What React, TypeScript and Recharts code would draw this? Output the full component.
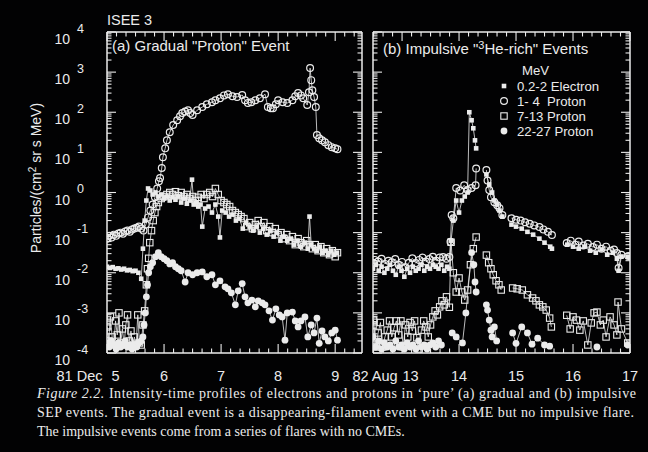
import React from "react";
import { ComposedChart, Line, XAxis, YAxis, Legend } from "recharts";

const FG = "#ebebeb";
const BG = "#020203";
const SANS = '"Liberation Sans", Arial, Helvetica, sans-serif';
const SERIF = '"Liberation Serif", "Times New Roman", serif';

type Pt = [number, number | null];

// (a) 1981 Dec 5-9, gradual event: [day of month, log10 intensity]
const gradElectron: Pt[] = [
  [5.0, -1.85], [5.05, -1.88], [5.1, -1.86], [5.15, -1.9], [5.2, -1.89], [5.25, -1.92], [5.3, -1.9],
  [5.35, -1.94], [5.4, -1.93], [5.45, -1.96], [5.5, -1.95], [5.55, -2.0], [5.6, -2.15], [5.63, -1.4],
  [5.66, -0.7], [5.69, -0.2], [5.72, 0.1], [5.76, 0.05], [5.8, -0.05], [5.85, 0.0], [5.9, -0.1],
  [5.95, -0.05], [6.0, -0.15], [6.05, -0.1], [6.1, -0.2], [6.15, -0.12], [6.2, -0.18], [6.25, -0.1],
  [6.3, -0.25], [6.35, -0.15], [6.4, -0.28], [6.45, -0.2], [6.49, 0.32], [6.52, -0.3], [6.56, -0.25],
  [6.6, -0.35], [6.64, -0.3], [6.67, -0.85], [6.72, -0.4], [6.78, -0.35], [6.84, -0.5], [6.9, -0.3],
  [6.95, -0.6], [6.98, -1.12], [7.02, -0.45], [7.08, -0.5], [7.14, -0.6], [7.2, -0.55], [7.26, -0.7],
  [7.32, -0.65], [7.38, -0.9], [7.44, -0.75], [7.5, -0.85], [7.56, -0.95], [7.62, -0.85], [7.68, -1.0],
  [7.74, -0.9], [7.8, -1.05], [7.86, -0.95], [7.92, -1.1], [7.98, -1.0], [8.04, -1.2], [8.1, -1.1],
  [8.16, -1.2], [8.22, -1.15], [8.28, -1.3], [8.34, -1.2], [8.4, -1.35], [8.46, -1.25], [8.52, -1.4],
  [8.55, -0.6], [8.58, -1.3], [8.63, -1.4], [8.68, -1.45], [8.73, -1.35], [8.78, -1.5], [8.83, -1.45],
  [8.88, -1.55], [8.93, -1.45], [8.98, -1.55], [9.03, -1.5],
];

const gradP14: Pt[] = [
  [5.0, -1.15], [5.04, -1.08], [5.08, -1.12], [5.12, -1.05], [5.16, -1.08], [5.2, -1.02], [5.24, -1.0],
  [5.28, -1.03], [5.32, -0.97], [5.36, -0.95], [5.4, -0.98], [5.44, -0.92], [5.48, -0.9], [5.52, -0.88],
  [5.56, -0.85], [5.6, -0.9], [5.64, -0.95], [5.68, -0.8], [5.72, -0.62], [5.76, -0.45], [5.8, -0.3],
  [5.84, -0.12], [5.88, 0.1], [5.91, 0.28], [5.93, 0.36], [5.96, 0.61], [5.98, 0.88], [6.02, 1.1],
  [6.05, 1.3], [6.1, 1.5], [6.16, 1.68], [6.23, 1.8], [6.28, 1.9], [6.32, 1.98], [6.37, 2.02],
  [6.42, 2.05], [6.46, 1.98], [6.5, 1.93], [6.58, 2.05], [6.67, 2.13], [6.75, 2.2], [6.84, 2.25],
  [6.9, 2.3], [6.98, 2.35], [7.05, 2.42], [7.12, 2.45], [7.2, 2.4], [7.28, 2.38], [7.37, 2.43],
  [7.42, 2.3], [7.47, 2.23], [7.53, 2.25], [7.6, 2.3], [7.68, 2.35], [7.77, 2.45], [7.82, 2.13],
  [7.87, 2.1], [7.91, 2.1], [7.96, 2.2], [8.0, 2.3], [8.08, 2.25], [8.16, 2.23], [8.25, 2.3],
  [8.3, 2.4], [8.35, 2.48], [8.4, 2.42], [8.44, 2.35], [8.51, 2.18], [8.54, 2.5], [8.56, 3.1],
  [8.58, 2.8], [8.6, 2.55], [8.63, 2.38], [8.66, 2.13], [8.68, 1.43], [8.72, 1.35], [8.77, 1.3],
  [8.82, 1.25], [8.88, 1.18], [8.94, 1.13], [9.0, 1.1], [9.04, 1.08],
];

const gradP713: Pt[] = [
  [5.0, -3.35], [5.03, -3.7], [5.06, -3.1], [5.09, -3.6], [5.12, -3.8], [5.15, -3.2], [5.18, -3.55],
  [5.21, -3.0], [5.24, -3.75], [5.27, -3.4], [5.3, -3.8], [5.33, -3.3], [5.36, -3.05], [5.39, -3.7],
  [5.42, -3.45], [5.45, -3.8], [5.48, -3.6], [5.51, -3.8], [5.54, -3.05], [5.57, -3.75], [5.6, -3.8],
  [5.63, -3.3], [5.66, -2.95], [5.69, -2.3], [5.71, -1.9], [5.73, -1.64], [5.75, -1.25], [5.78, -0.95],
  [5.81, -0.7], [5.84, -0.5], [5.87, -0.35], [5.9, -0.25], [5.95, -0.15], [6.0, -0.1], [6.05, -0.05],
  [6.1, 0.0], [6.15, -0.05], [6.2, 0.02], [6.25, -0.08], [6.3, 0.0], [6.35, -0.1], [6.4, -0.05],
  [6.45, -0.15], [6.5, -0.1], [6.55, -0.2], [6.6, -0.12], [6.65, -0.05], [6.7, -0.15], [6.75, -0.05],
  [6.8, 0.0], [6.85, -0.1], [6.9, 0.1], [6.95, -0.05], [7.0, -0.2], [7.05, -0.25], [7.1, -0.3],
  [7.15, -0.35], [7.2, -0.45], [7.25, -0.5], [7.3, -0.55], [7.35, -0.6], [7.4, -0.65], [7.45, -0.85],
  [7.5, -0.75], [7.55, -0.9], [7.6, -0.8], [7.65, -0.7], [7.7, -0.85], [7.75, -0.75], [7.8, -0.95],
  [7.85, -0.85], [7.9, -1.0], [7.95, -0.9], [8.0, -1.05], [8.05, -1.0], [8.1, -1.15], [8.15, -1.05],
  [8.2, -1.2], [8.25, -1.1], [8.3, -1.3], [8.35, -1.15], [8.4, -1.25], [8.45, -1.35], [8.5, -1.2],
  [8.55, -1.3], [8.6, -1.4], [8.65, -1.3], [8.7, -1.45], [8.75, -1.35], [8.8, -1.5], [8.85, -1.4],
  [8.9, -1.55], [8.95, -1.45], [9.0, -1.6], [9.04, -1.5],
];

const gradP2227: Pt[] = [
  [5.0, -3.75], [5.04, -3.85], [5.08, -3.7], [5.12, -3.8], [5.16, -3.9], [5.2, -3.75], [5.24, -3.85],
  [5.28, -3.8], [5.32, -3.7], [5.36, -3.85], [5.4, -3.8], [5.44, -3.9], [5.48, -3.8], [5.52, -3.85],
  [5.56, -3.75], [5.6, -3.7], [5.63, -3.6], [5.65, -3.3], [5.67, -3.0], [5.69, -2.6], [5.71, -2.3],
  [5.73, -2.0], [5.76, -1.85], [5.8, -1.75], [5.85, -1.6], [5.9, -1.5], [5.95, -1.6], [6.0, -1.65],
  [6.05, -1.7], [6.1, -1.78], [6.15, -1.75], [6.2, -1.85], [6.25, -1.9], [6.3, -1.95], [6.37, -2.23],
  [6.42, -2.0], [6.5, -2.05], [6.58, -2.0], [6.67, -1.98], [6.75, -2.1], [6.84, -2.05], [6.9, -2.3],
  [6.98, -2.2], [7.07, -2.35], [7.12, -2.4], [7.18, -2.5], [7.25, -2.8], [7.3, -2.45], [7.37, -2.27],
  [7.42, -2.6], [7.47, -2.75], [7.54, -2.68], [7.6, -2.85], [7.65, -2.7], [7.72, -2.75], [7.77, -2.8],
  [7.84, -2.95], [7.9, -3.18], [7.96, -2.9], [8.02, -3.05], [8.07, -3.1], [8.12, -3.68], [8.16, -3.0],
  [8.25, -2.98], [8.3, -3.2], [8.35, -3.35], [8.4, -3.2], [8.47, -3.1], [8.52, -3.6], [8.58, -3.3],
  [8.63, -3.5], [8.68, -3.13], [8.72, -3.76], [8.77, -3.45], [8.82, -3.6], [8.88, -3.7], [8.94, -3.5],
  [9.0, -3.43], [9.04, -3.68],
];

// (b) 1982 Aug 13-17, impulsive events (null = data gap)
const impElectron: Pt[] = [
  [12.49, -1.9], [12.54, -1.8], [12.59, -1.95], [12.64, -1.85], [12.69, -2.0], [12.74, -1.9],
  [12.79, -1.8], [12.84, -1.95], [12.89, -2.05], [12.94, -1.85], [12.99, -1.95], [13.04, -2.1],
  [13.09, -1.9], [13.14, -2.0], [13.19, -1.85], [13.24, -1.95], [13.29, -1.9], [13.34, -1.8],
  [13.39, -1.95], [13.44, -1.85], [13.49, -1.9], [13.54, -1.8], [13.59, -1.85], [13.64, -1.9],
  [13.69, -1.8], [13.74, -1.95], [13.79, -1.85], [13.83, -1.9], [13.86, -1.2], [13.9, -0.7],
  [13.95, -0.2], [14.0, -0.5], [14.05, -0.2], [14.1, -0.1], [14.15, 0.0], [14.18, 2.0], [14.22, 1.8],
  [14.25, 1.6], [14.28, 1.3], [14.3, 1.1], [14.4, null], [14.48, 0.45], [14.53, 0.2], [14.58, 0.0],
  [14.62, -0.2], [14.67, -0.3], [14.71, -0.45], [14.76, -0.6], [14.84, null], [14.92, -0.8],
  [15.0, -0.85], [15.1, -0.9], [15.2, -0.98], [15.3, -1.05], [15.41, -1.15], [15.5, -1.25],
  [15.6, -1.35], [15.63, -1.4], [15.75, null], [15.9, -1.3], [16.0, -1.35], [16.1, -1.4], [16.2, -1.35],
  [16.3, -1.45], [16.4, -1.5], [16.5, -1.42], [16.6, -1.55], [16.7, -1.5], [16.77, -1.65],
  [16.8, -1.95], [16.85, -1.6], [16.97, -1.6],
];

const impP14: Pt[] = [
  [12.49, -1.75], [12.52, -1.68], [12.58, -1.72], [12.64, -1.65], [12.7, -1.78], [12.76, -1.7],
  [12.82, -1.74], [12.88, -1.66], [12.94, -1.8], [13.0, -1.73], [13.06, -1.86], [13.12, -1.75],
  [13.18, -1.64], [13.24, -1.76], [13.3, -1.68], [13.36, -1.62], [13.42, -1.72], [13.48, -1.66],
  [13.54, -1.6], [13.6, -1.7], [13.66, -1.62], [13.72, -1.61], [13.78, -1.65], [13.83, -1.61],
  [13.85, -1.23], [13.87, -0.56], [13.9, -0.64], [13.95, 0.11], [14.02, 0.05], [14.09, 0.18],
  [14.15, 0.06], [14.22, 0.11], [14.29, 0.18], [14.3, 0.6], [14.4, null], [14.48, 0.56], [14.5, 0.3],
  [14.53, 0.06], [14.56, -0.12], [14.62, -0.24], [14.67, -0.32], [14.71, -0.39], [14.76, -0.56],
  [14.84, null], [14.92, -0.64], [15.0, -0.68], [15.08, -0.7], [15.16, -0.74], [15.24, -0.78],
  [15.32, -0.82], [15.41, -0.86], [15.48, -0.92], [15.56, -0.98], [15.63, -1.06], [15.75, null],
  [15.89, -1.26], [15.96, -1.2], [16.04, -1.3], [16.1, -1.22], [16.18, -1.32], [16.26, -1.28],
  [16.35, -1.36], [16.42, -1.3], [16.5, -1.4], [16.58, -1.35], [16.66, -1.45], [16.72, -1.42],
  [16.77, -1.51], [16.8, -1.88], [16.85, -1.55], [16.97, -1.58],
];

const impP713: Pt[] = [
  [12.49, -3.3], [12.5, -3.18], [12.54, -3.85], [12.58, -3.5], [12.62, -3.24], [12.66, -3.85],
  [12.7, -3.6], [12.74, -3.43], [12.78, -3.2], [12.82, -3.6], [12.86, -3.37], [12.9, -3.2],
  [12.94, -3.55], [12.98, -3.2], [13.02, -3.85], [13.06, -3.3], [13.1, -3.6], [13.14, -3.24],
  [13.18, -3.45], [13.22, -3.2], [13.26, -3.62], [13.3, -3.9], [13.34, -3.43], [13.38, -3.2],
  [13.42, -3.35], [13.46, -3.6], [13.5, -3.3], [13.54, -3.1], [13.58, -2.95], [13.62, -3.05],
  [13.66, -2.85], [13.7, -2.7], [13.74, -2.8], [13.78, -2.6], [13.83, -2.86], [13.86, -1.24],
  [13.9, -2.0], [13.95, -2.48], [14.0, -2.13], [14.05, -2.48], [14.1, -2.68], [14.15, -2.43],
  [14.2, -1.8], [14.25, -1.4], [14.3, -1.11], [14.4, null], [14.48, -1.56], [14.52, -1.75],
  [14.56, -1.9], [14.6, -2.05], [14.65, -2.2], [14.7, -2.3], [14.74, -2.43], [14.84, null],
  [14.94, -2.38], [15.02, -2.4], [15.11, -2.43], [15.2, -2.55], [15.29, -2.63], [15.35, -2.7],
  [15.41, -2.8], [15.47, -2.85], [15.53, -2.93], [15.59, -3.13], [15.62, -3.35], [15.75, null],
  [15.89, -3.06], [15.95, -3.4], [16.0, -3.1], [16.06, -3.18], [16.12, -3.43], [16.18, -3.2],
  [16.26, -3.8], [16.32, -3.25], [16.37, -3.0], [16.42, -2.98], [16.48, -3.3], [16.53, -3.18],
  [16.58, -3.6], [16.65, -3.1], [16.72, -3.3], [16.77, -3.55], [16.79, -2.73], [16.85, -3.4],
  [16.96, -3.75],
];

const impP2227: Pt[] = [
  [12.49, -3.6], [12.54, -3.85], [12.59, -3.7], [12.64, -3.9], [12.69, -3.75], [12.74, -3.85],
  [12.79, -3.8], [12.84, -3.9], [12.89, -3.7], [12.94, -3.85], [12.99, -3.8], [13.04, -3.9],
  [13.09, -3.75], [13.14, -3.85], [13.19, -3.8], [13.24, -3.9], [13.29, -3.7], [13.34, -3.85],
  [13.39, -3.8], [13.44, -3.9], [13.49, -3.8], [13.54, -3.75], [13.59, -3.85], [13.64, -3.7],
  [13.69, -3.8], [13.78, null], [13.88, -3.5], [13.95, -3.6], [14.06, -3.75], [14.12, -3.0],
  [14.22, -1.5], [14.26, -1.8], [14.28, -2.23], [14.3, -2.48], [14.4, null], [14.48, -2.8],
  [14.5, -2.93], [14.53, -3.18], [14.56, -3.43], [14.58, -3.6], [14.62, -3.35], [14.66, -3.7],
  [14.8, null], [14.94, -3.5], [15.0, -3.76], [15.1, -3.35], [15.2, -3.5], [15.28, -3.78],
  [15.38, -3.63], [15.5, -3.8], [15.59, -3.83], [16.0, null], [16.42, -3.85], [16.7, null],
  [16.96, -3.8],
];

const gradDays = [5, 6, 7, 8, 9];
const gradDayLabels = ["81 Dec 5", "6", "7", "8", "9"];
const impDays = [13, 14, 15, 16, 17];
const impDayLabels = ["82 Aug 13", "14", "15", "16", "17"];
const decades = [-4, -3, -2, -1, 0, 1, 2, 3, 4];
const legendTitle = "MeV";
const legendLabels = ["0.2-2 Electron", "1- 4  Proton", "7-13 Proton", "22-27 Proton"];
const captionLead = "Figure 2.2.";
const captionLines = [
  " Intensity-time profiles of electrons and protons in \u2018pure\u2019 (a) gradual and (b) impulsive",
  "SEP events. The gradual event is a disappearing-filament event with a CME but no impulsive flare.",
  "The impulsive events come from a series of flares with no CMEs.",
];

type Kind = "elec" | "p14" | "p713" | "p2227";
const kinds: Kind[] = ["elec", "p14", "p713", "p2227"];

const toRows = (pts: Pt[]) => pts.map(([d, v]) => ({ d, v }));

// axis tick positions: every 4 hours, and log minor ticks 2..9 per decade
const hourTicks = (lo: number, hi: number) => {
  const out: number[] = [];
  for (let i = Math.ceil(lo * 6); i <= Math.floor(hi * 6); i++) out.push(i / 6);
  return out;
};
const logTicks = decades.flatMap((n) =>
  n === 4 ? [4] : [1, 2, 3, 4, 5, 6, 7, 8, 9].map((k) => n + Math.log10(k))
);
const isWhole = (v: number) => Math.abs(v - Math.round(v)) < 1e-6;

function Marker({ kind, cx, cy }: { kind: Kind; cx: number; cy: number }) {
  if (kind === "elec") return <rect x={cx - 2.3} y={cy - 2.3} width={4.6} height={4.6} fill={FG} />;
  if (kind === "p14")
    return <circle cx={cx} cy={cy} r={3.4} fill="none" stroke={FG} strokeWidth={1.2} />;
  if (kind === "p713")
    return (
      <rect x={cx - 3.2} y={cy - 3.2} width={6.4} height={6.4} fill="none" stroke={FG} strokeWidth={1.1} />
    );
  return <circle cx={cx} cy={cy} r={3.4} fill={FG} />;
}

function LeftTick(props: any) {
  const { x, y, payload, showLabel } = props;
  const major = isWhole(payload.value);
  return (
    <g>
      <line x1={x} y1={y} x2={x + (major ? 9 : 4.5)} y2={y} stroke={FG} strokeWidth={1.1} />
      {showLabel && major ? (
        <g fill={FG} fontFamily={SANS}>
          <text x={x - 37} y={y + 12} textAnchor="end" fontSize={14}>
            10
          </text>
          <text x={x - 30} y={y + 0.5} fontSize={12.5}>
            {Math.round(payload.value)}
          </text>
        </g>
      ) : null}
    </g>
  );
}

function RightTick(props: any) {
  const { x, y, payload } = props;
  const major = isWhole(payload.value);
  return <line x1={x} y1={y} x2={x - (major ? 9 : 4.5)} y2={y} stroke={FG} strokeWidth={1.1} />;
}

function TopTick(props: any) {
  const { x, y, payload } = props;
  const major = isWhole(payload.value);
  return <line x1={x} y1={y} x2={x} y2={y + (major ? 9 : 4.5)} stroke={FG} strokeWidth={1.1} />;
}

function BottomTick(props: any) {
  const { x, y, payload, days, labels } = props;
  const v = payload.value;
  const major = isWhole(v);
  const idx = (days as number[]).findIndex((d) => Math.abs(d - v) < 1e-6);
  const label: string | null = idx >= 0 ? labels[idx] : null;
  const parts = label ? label.split(" ") : [];
  const num = parts.pop();
  const prefix = parts.join(" ");
  const txt = { fill: FG, fontFamily: SANS, fontSize: 14.5 };
  return (
    <g>
      <line x1={x} y1={y} x2={x} y2={y - (major ? 9 : 4.5)} stroke={FG} strokeWidth={1.1} />
      {label && prefix ? (
        <>
          <text x={x - 4.5} y={y + 28} textAnchor="end" {...txt}>
            {prefix}
          </text>
          <text x={x + 8.5} y={y + 28} textAnchor="middle" {...txt}>
            {num}
          </text>
        </>
      ) : label ? (
        <text x={x} y={y + 28} textAnchor="middle" {...txt}>
          {num}
        </text>
      ) : null}
    </g>
  );
}

function LegendBox() {
  return (
    <svg width={140} height={84} style={{ display: "block", overflow: "visible" }}>
      <g fill={FG} fontFamily={SANS} fontSize={13.2}>
        <text x={27} y={16}>
          {legendTitle}
        </text>
        {legendLabels.map((label, i) => (
          <g key={label}>
            <Marker kind={kinds[i]} cx={9} cy={27 + i * 15} />
            <text x={22} y={32 + i * 15} style={{ whiteSpace: "pre" }}>
              {label}
            </text>
          </g>
        ))}
      </g>
    </svg>
  );
}

type PanelProps = {
  left: number;
  width: number;
  axisWidth: number;
  rightGap: number;
  domain: [number, number];
  days: number[];
  dayLabels: string[];
  series: Pt[][];
  showYLabels: boolean;
  legend: boolean;
};

function Panel({ left, width, axisWidth, rightGap, domain, days, dayLabels, series, showYLabels, legend }: PanelProps) {
  const xTicks = hourTicks(domain[0], domain[1]);
  const frame = { stroke: FG, strokeWidth: 1.5 };
  return (
    <div style={{ position: "absolute", left, top: 0 }}>
      <ComposedChart width={width} height={400} margin={{ top: 31, right: rightGap, bottom: 0, left: 0 }}>
        <XAxis
          xAxisId="bottom"
          type="number"
          dataKey="d"
          domain={domain}
          allowDataOverflow
          ticks={xTicks}
          interval={0}
          height={47}
          tickSize={0}
          tickMargin={0}
          tickLine={false}
          axisLine={frame}
          tick={(p: any) => <BottomTick {...p} days={days} labels={dayLabels} />}
        />
        <XAxis
          xAxisId="top"
          orientation="top"
          type="number"
          dataKey="d"
          domain={domain}
          allowDataOverflow
          ticks={xTicks}
          interval={0}
          height={1}
          tickSize={0}
          tickMargin={0}
          tickLine={false}
          axisLine={frame}
          tick={(p: any) => <TopTick {...p} />}
        />
        <YAxis
          yAxisId="left"
          type="number"
          domain={[-4, 4]}
          allowDataOverflow
          ticks={logTicks}
          interval={0}
          width={axisWidth}
          tickSize={0}
          tickMargin={0}
          tickLine={false}
          axisLine={frame}
          tick={(p: any) => <LeftTick {...p} showLabel={showYLabels} />}
        />
        <YAxis
          yAxisId="right"
          orientation="right"
          type="number"
          domain={[-4, 4]}
          allowDataOverflow
          ticks={logTicks}
          interval={0}
          width={1}
          tickSize={0}
          tickMargin={0}
          tickLine={false}
          axisLine={frame}
          tick={(p: any) => <RightTick {...p} />}
        />
        {series.map((pts, i) => (
          <Line
            key={kinds[i]}
            name={legendLabels[i]}
            xAxisId="bottom"
            yAxisId="left"
            data={toRows(pts)}
            dataKey="v"
            type="linear"
            stroke={FG}
            strokeWidth={0.8}
            activeDot={false}
            isAnimationActive={false}
            dot={(p: any) =>
              p.cx == null || p.cy == null || p.value == null ? (
                <g key={`${kinds[i]}-${p.index}`} />
              ) : (
                <g key={`${kinds[i]}-${p.index}`}>
                  <Marker kind={kinds[i]} cx={p.cx} cy={p.cy} />
                </g>
              )
            }
          />
        ))}
        {legend ? (
          <Legend
            layout="horizontal"
            verticalAlign="middle"
            align="center"
            wrapperStyle={{ left: 155, top: 59, width: 140, height: 84 }}
            content={() => <LegendBox />}
          />
        ) : null}
      </ComposedChart>
    </div>
  );
}

export default function App() {
  return (
    <div
      style={{
        position: "fixed",
        left: 0,
        top: 0,
        width: 648,
        height: 452,
        background: BG,
        overflow: "hidden",
      }}
    >
      <Panel
        left={0}
        width={370}
        axisWidth={107}
        rightGap={7}
        domain={[5, 9.47]}
        days={gradDays}
        dayLabels={gradDayLabels}
        series={[gradElectron, gradP14, gradP713, gradP2227]}
        showYLabels
        legend={false}
      />
      <Panel
        left={340}
        width={308}
        axisWidth={33}
        rightGap={17}
        domain={[12.49, 17]}
        days={impDays}
        dayLabels={impDayLabels}
        series={[impElectron, impP14, impP713, impP2227]}
        showYLabels={false}
        legend
      />
      <svg
        width={648}
        height={452}
        style={{ position: "absolute", left: 0, top: 0, pointerEvents: "none" }}
      >
        <g fill={FG} fontFamily={SANS}>
          <text x={107} y={25} fontSize={14.5}>
            ISEE 3
          </text>
          <text x={112} y={51} fontSize={15}>
            (a) Gradual "Proton" Event
          </text>
          <text x={383} y={54} fontSize={15}>
            (b) Impulsive "
            <tspan fontSize={11} dy={-5}>
              3
            </tspan>
            <tspan dy={5}>He-rich" Events</tspan>
          </text>
          <text transform="translate(41,178) rotate(-90)" textAnchor="middle" fontSize={14}>
            Particles/(cm
            <tspan fontSize={10} dy={-5}>
              2
            </tspan>
            <tspan dy={5}> sr s MeV)</tspan>
          </text>
        </g>
        <g fill={FG} fontFamily={SERIF} fontSize={14}>
          <text x={37} y={398} textLength={599} lengthAdjust="spacing">
            <tspan fontStyle="italic">{captionLead}</tspan>
            {captionLines[0]}
          </text>
          <text x={37} y={417} textLength={597} lengthAdjust="spacing">
            {captionLines[1]}
          </text>
          <text x={37} y={436}>
            {captionLines[2]}
          </text>
        </g>
      </svg>
    </div>
  );
}
